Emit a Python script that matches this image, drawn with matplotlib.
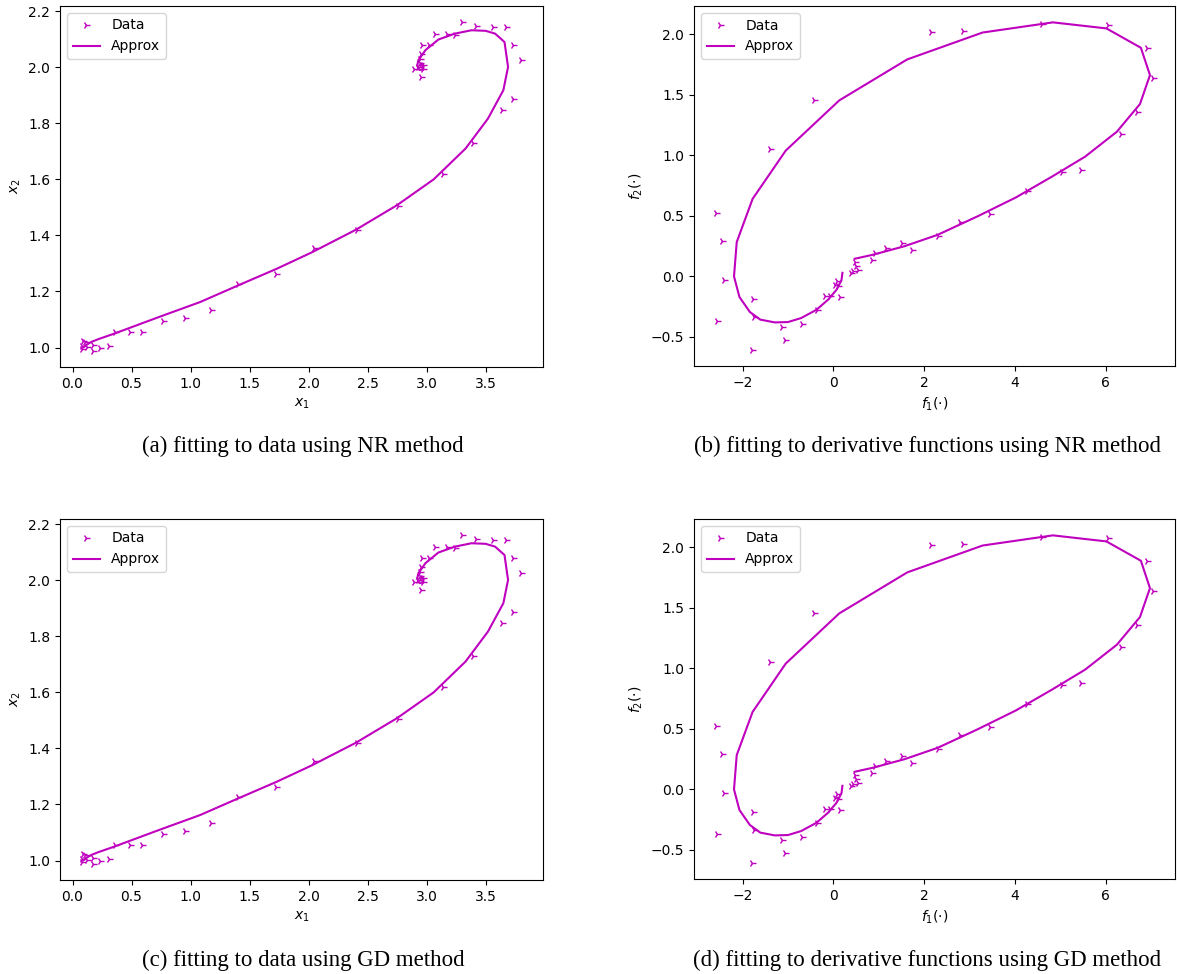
import matplotlib
matplotlib.use("Agg")
import matplotlib.pyplot as plt

# ---- panel (a)/(c): state-space data and approximation ----
x1_data = [0.09, 0.107, 0.08, 0.08, 0.12, 0.17, 0.17, 0.23, 0.31, 0.36, 0.49, 0.59,
           0.765, 0.95, 1.17, 1.40, 1.72, 2.05, 2.41, 2.76, 3.14, 3.39, 3.64, 3.73,
           3.80, 3.735, 3.67, 3.56, 3.42, 3.30, 3.24, 3.17, 3.07, 3.02, 2.96, 2.95,
           2.94, 2.94, 2.97, 2.97, 2.89, 2.95, 2.93]
x2_data = [1.025, 1.019, 1.007, 0.993, 1.001, 1.01, 0.989, 0.999, 1.007, 1.055, 1.055,
           1.057, 1.096, 1.105, 1.135, 1.225, 1.263, 1.355, 1.420, 1.504, 1.620, 1.730,
           1.846, 1.888, 2.025, 2.079, 2.142, 2.142, 2.146, 2.160, 2.114, 2.117, 2.120,
           2.081, 2.079, 2.049, 2.028, 2.014, 2.007, 1.992, 1.992, 1.965, 2.0]

x1_approx = [0.09, 0.12, 0.16, 0.22, 0.35, 0.74, 1.08, 1.40, 1.73, 2.03, 2.40, 2.75,
             3.06, 3.33, 3.52, 3.65, 3.69, 3.66, 3.58, 3.50, 3.38, 3.24, 3.10, 2.99,
             2.93, 2.92, 2.94, 2.97, 2.975, 2.96, 2.95]
x2_approx = [1.0, 1.01, 1.02, 1.03, 1.049, 1.11, 1.162, 1.221, 1.281, 1.340, 1.420,
             1.508, 1.600, 1.710, 1.817, 1.918, 2.001, 2.090, 2.120, 2.13, 2.132, 2.120,
             2.099, 2.061, 2.025, 2.005, 1.99, 1.992, 2.005, 2.012, 2.005]

# ---- panel (b)/(d): derivative data and approximation ----
f1_data = [0.40, 0.44, 0.55, 0.51, 0.48, 0.86, 0.91, 1.17, 1.52, 1.74, 2.30, 2.80,
           3.45, 4.26, 5.04, 5.45, 6.34, 6.70, 7.05, 6.92, 6.05, 4.59, 2.85, 2.16,
           -0.43, -1.39, -2.59, -2.45, -2.41, -2.56, -1.77, -1.74, -1.79, -1.13, -1.06,
           -0.70, -0.37, -0.18, -0.07, 0.15, 0.11, 0.04, 0.09]
f2_data = [0.028, 0.041, 0.05, 0.083, 0.116, 0.138, 0.193, 0.234, 0.276, 0.215, 0.336,
           0.446, 0.515, 0.707, 0.86, 0.88, 1.175, 1.36, 1.64, 1.89, 2.08, 2.09, 2.03,
           2.02, 1.458, 1.054, 0.528, 0.297, -0.033, -0.366, -0.187, -0.338, -0.605,
           -0.42, -0.528, -0.39, -0.275, -0.165, -0.16, -0.17, -0.08, -0.068, -0.04]

f1_approx = [0.47, 0.88, 1.57, 2.30, 3.18, 4.02, 4.82, 5.55, 6.25, 6.76, 6.98, 6.78,
             6.02, 4.84, 3.29, 1.63, 0.13, -1.05, -1.78, -2.13, -2.19, -2.07, -1.84,
             -1.61, -1.29, -1.00, -0.71, -0.37, -0.11, 0.07, 0.18, 0.20]
f2_approx = [0.146, 0.18, 0.25, 0.344, 0.497, 0.652, 0.825, 0.99, 1.196, 1.425, 1.664,
             1.89, 2.05, 2.10, 2.016, 1.794, 1.455, 1.04, 0.641, 0.284, 0.0, -0.17,
             -0.294, -0.357, -0.38, -0.377, -0.344, -0.275, -0.19, -0.11, -0.03, 0.03]

captions = ["(a) fitting to data using NR method",
            "(b) fitting to derivative functions using NR method",
            "(c) fitting to data using GD method",
            "(d) fitting to derivative functions using GD method"]

W, H = 1177, 974
fig = plt.figure(figsize=(W / 100, H / 100), dpi=100)


def px_axes(l, t, r, b):
    return fig.add_axes([l / W, 1 - b / H, (r - l) / W, (b - t) / H])


panels = [
    (px_axes(60, 6, 543, 367), x1_data, x2_data, x1_approx, x2_approx, "$x_1$", "$x_2$"),
    (px_axes(694, 6, 1175, 366), f1_data, f2_data, f1_approx, f2_approx,
     r"$f_1(\cdot)$", r"$f_2(\cdot)$"),
    (px_axes(60, 519, 543, 880), x1_data, x2_data, x1_approx, x2_approx, "$x_1$", "$x_2$"),
    (px_axes(694, 519, 1175, 879), f1_data, f2_data, f1_approx, f2_approx,
     r"$f_1(\cdot)$", r"$f_2(\cdot)$"),
]

for ax, xd, yd, xa, ya, xl, yl in panels:
    ax.plot(xd, yd, '4', color='m', label='Data')
    ax.plot(xa, ya, '-', color='m', label='Approx')
    ax.set_xlabel(xl)
    ax.set_ylabel(yl)
    ax.legend(loc='upper left')

cap_pos = [(303, 446), (927, 446), (303, 960), (927, 960)]
for (cx, cy), txt in zip(cap_pos, captions):
    fig.text(cx / W, 1 - cy / H, txt, ha='center', va='center',
             family='Liberation Serif', fontsize=16.5)

fig.savefig("out.png", dpi=100)
